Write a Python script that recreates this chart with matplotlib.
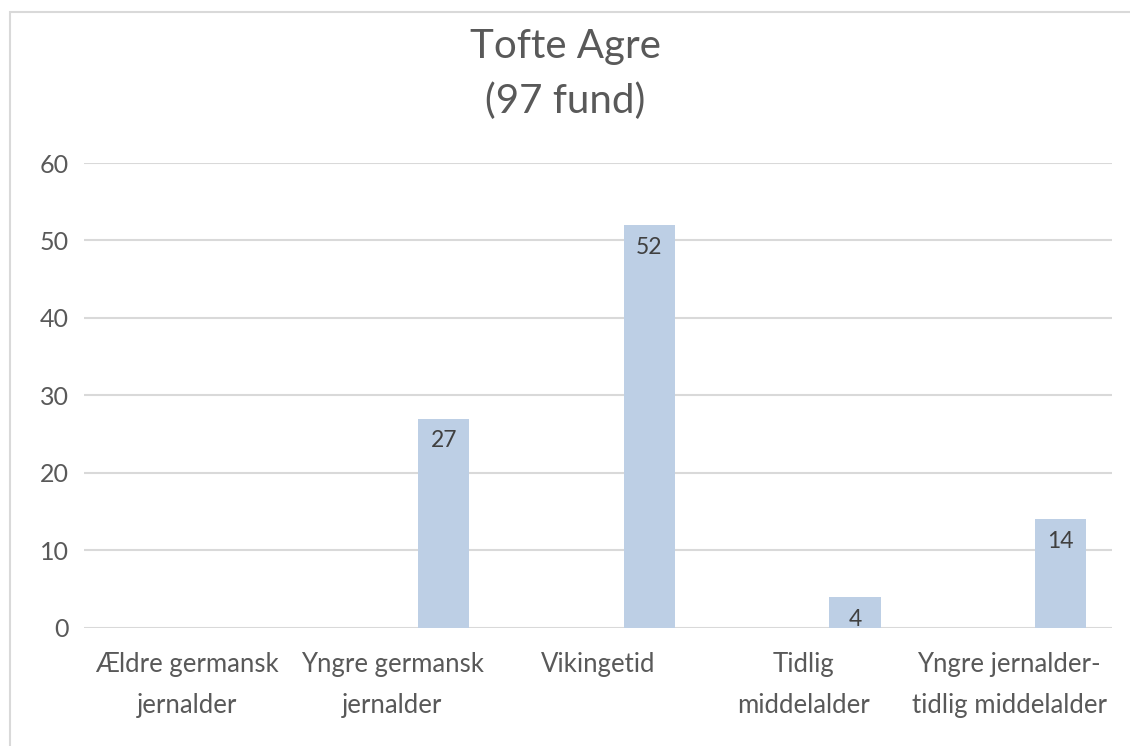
import matplotlib.pyplot as plt
import matplotlib.patches as mpatches
import numpy as np

plt.rcParams['font.family'] = ['Lato', 'DejaVu Sans']

# data
categories = ["Ældre germansk\njernalder", "Yngre germansk\njernalder", "Vikingetid",
              "Tidlig\nmiddelalder", "Yngre jernalder-\ntidlig middelalder"]
counts = [0, 27, 52, 4, 14]
title = "Tofte Agre\n(97 fund)"

bar_color = "#bdcfe5"
text_color = "#595959"
grid_color = "#d9d9d9"

fig = plt.figure(figsize=(11.3, 7.46), dpi=100)
ax = fig.add_axes([0.0743, 0.1582, 0.9097, 0.6233])

# chart area border (only top and left visible)
fig.patches.append(mpatches.Rectangle((10 / 1130, -0.1), 1.2, (746 - 12) / 746 + 0.1,
                                      transform=fig.transFigure, fill=False,
                                      edgecolor=grid_color, linewidth=1.5))

x = np.arange(len(categories))
vals = np.array(counts, dtype=float)
vals[vals == 0] = np.nan
bars = ax.bar(x + 0.25, vals, width=0.25, color=bar_color, zorder=3)

for xi, v in zip(x, counts):
    if v > 0:
        ax.annotate(str(v), (xi + 0.25, v), xytext=(0, -16), textcoords="offset points",
                    ha="center", va="center", fontsize=16.5, color="#404040", zorder=4)

ax.set_xlim(-0.5, len(categories) - 0.5)
ax.set_ylim(0, 60)
ax.set_yticks(range(0, 61, 10))
ax.yaxis.grid(True, color=grid_color, linewidth=1.5, zorder=0)
ax.set_axisbelow(True)
for s in ax.spines.values():
    s.set_visible(False)

ax.set_xticks(x)
ax.set_xticklabels(categories, linespacing=1.8)
ax.tick_params(axis="both", length=0, colors=text_color)
ax.tick_params(axis="y", pad=11, labelsize=18)
ax.tick_params(axis="x", pad=17, labelsize=18.5)

fig.text(0.5, 1 - 74 / 746, title, ha="center", va="center", fontsize=29,
         color=text_color, linespacing=1.55)

fig.savefig("out.png", dpi=100)
